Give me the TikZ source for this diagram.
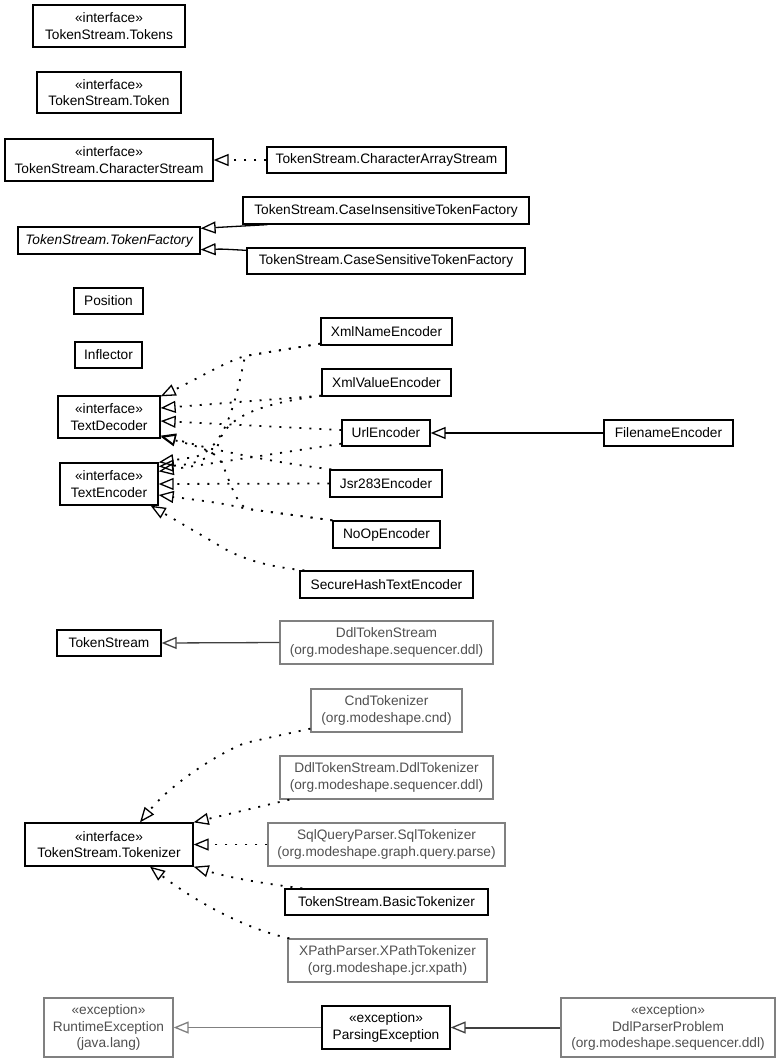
\documentclass[tikz,border=0pt]{standalone}
\usepackage{fontspec}
\setmainfont{Liberation Sans}
\usetikzlibrary{arrows.meta}
\definecolor{gborder}{HTML}{808080}
\definecolor{gtext}{HTML}{505050}
\definecolor{dline}{HTML}{404040}
\begin{document}
\begin{tikzpicture}[x=1pt,y=-1pt,
  box/.style={draw=black, line width=1.3pt, inner sep=0pt, align=center,
    font=\fontsize{13.7}{16.5}\selectfont, text=black},
  gbox/.style={box, draw=gborder, text=gtext},
  real/.style={line width=1.3pt, -{Triangle[open,length=15pt,width=12pt,line width=1.3pt]}},
  impl/.style={real, line width=1.8pt, dash pattern=on 2pt off 8pt}
]
\useasboundingbox (0,0) rectangle (781,1063);
\fill[white] (0,0) rectangle (781,1063);

% nodes
\node[box, minimum width=152pt, minimum height=42pt] (tokens) at (109,26) {«interface»\\TokenStream.Tokens};
\node[box, minimum width=144pt, minimum height=41pt] (token) at (109,92.5) {«interface»\\TokenStream.Token};
\node[box, minimum width=208pt, minimum height=42pt] (charstream) at (109,160) {«interface»\\TokenStream.CharacterStream};
\node[box, minimum width=239pt, minimum height=26pt] (chararray) at (386.5,160) {TokenStream.CharacterArrayStream};
\node[box, minimum width=182pt, minimum height=27pt, font=\fontsize{13.7}{16.5}\selectfont\itshape] (factory) at (109,240.5) {TokenStream.TokenFactory};
\node[box, minimum width=286pt, minimum height=27pt] (caseins) at (386,210.5) {TokenStream.CaseInsensitiveTokenFactory};
\node[box, minimum width=278pt, minimum height=26pt] (casesens) at (386,261) {TokenStream.CaseSensitiveTokenFactory};
\node[box, minimum width=69pt, minimum height=26pt] (position) at (108.5,301) {Position};
\node[box, minimum width=67pt, minimum height=26pt] (inflector) at (108.5,355) {Inflector};
\node[box, minimum width=102pt, minimum height=42pt] (textdec) at (109,417) {«interface»\\TextDecoder};
\node[box, minimum width=98pt, minimum height=42pt] (textenc) at (109,484) {«interface»\\TextEncoder};
\node[box, minimum width=131pt, minimum height=27pt] (xmlname) at (386.5,331.5) {XmlNameEncoder};
\node[box, minimum width=129pt, minimum height=27pt] (xmlvalue) at (386.5,382.5) {XmlValueEncoder};
\node[box, minimum width=88pt, minimum height=26pt] (url) at (386,433) {UrlEncoder};
\node[box, minimum width=129pt, minimum height=26pt] (filename) at (668.5,433) {FilenameEncoder};
\node[box, minimum width=112pt, minimum height=27pt] (jsr) at (386,483.5) {Jsr283Encoder};
\node[box, minimum width=107pt, minimum height=27pt] (noop) at (386.5,534.5) {NoOpEncoder};
\node[box, minimum width=173pt, minimum height=27pt] (securehash) at (386.5,584.5) {SecureHashTextEncoder};
\node[box, minimum width=104pt, minimum height=26pt] (tokenstream) at (109,643) {TokenStream};
\node[gbox, minimum width=213pt, minimum height=43pt] (ddltokenstream) at (386.5,642.5) {DdlTokenStream\\(org.modeshape.sequencer.ddl)};
\node[gbox, minimum width=151pt, minimum height=43pt] (cnd) at (386.5,710.5) {CndTokenizer\\(org.modeshape.cnd)};
\node[gbox, minimum width=213pt, minimum height=43pt] (ddltokenizer) at (386.5,777.5) {DdlTokenStream.DdlTokenizer\\(org.modeshape.sequencer.ddl)};
\node[gbox, minimum width=237pt, minimum height=43pt] (sqltokenizer) at (386.5,844.5) {SqlQueryParser.SqlTokenizer\\(org.modeshape.graph.query.parse)};
\node[box, minimum width=168pt, minimum height=43pt] (tokenizer) at (109,844.5) {«interface»\\TokenStream.Tokenizer};
\node[box, minimum width=203pt, minimum height=26pt] (basic) at (386.5,902) {TokenStream.BasicTokenizer};
\node[gbox, minimum width=199pt, minimum height=43pt] (xpath) at (387.5,960.5) {XPathParser.XPathTokenizer\\(org.modeshape.jcr.xpath)};
\node[gbox, minimum width=129pt, minimum height=59pt] (runtime) at (108.5,1027.5) {«exception»\\RuntimeException\\(java.lang)};
\node[box, minimum width=128pt, minimum height=43pt] (parsing) at (386,1027.5) {«exception»\\ParsingException};
\node[gbox, minimum width=214pt, minimum height=59pt] (ddlparser) at (668,1027.5) {«exception»\\DdlParserProblem\\(org.modeshape.sequencer.ddl)};

% waypoints
\coordinate (w1) at (245,356);
\coordinate (w2) at (218,445);
\coordinate (w3) at (212,449);
\coordinate (w4) at (248,509);
\coordinate (w5) at (224,468);
\coordinate (w6) at (215,543);
\coordinate (w7) at (245,743);
\coordinate (w8) at (195,457);

% top group
\draw[impl] (chararray.west) -- (charstream.east);
\draw[real] ([xshift=25pt]caseins.south west) -- ([yshift=-2pt]factory.north east);
\draw[real] ([yshift=-3pt]casesens.north west) .. controls (222,249) .. ([yshift=5pt]factory.south east);

% encoders / decoders
\draw[impl] ([yshift=2pt]xmlname.south west) -- (w1) .. controls (225,362) and (195,380) .. ([yshift=-1pt]textdec.north east);
\draw[impl] ([yshift=2pt]xmlname.south west) -- (w1) .. controls (236,400) and (226,448) .. (w8) -- (textenc.north east);
\draw[impl] ([yshift=1pt]xmlvalue.south west) -- ([yshift=9pt]textdec.east);
\draw[impl] ([yshift=1pt]xmlvalue.south west) .. controls (250,405) and (225,420) .. (w2) .. controls (212,460) and (190,465) .. ([yshift=-4pt]textenc.north east);
\draw[impl] ([yshift=3pt]url.west) -- ([yshift=-4pt]textdec.east);
\draw[impl] ([yshift=3pt]url.south west) -- ([yshift=-9pt]textenc.north east);
\draw[real] (filename.west) -- (url.east);
\draw[impl] ([xshift=2pt]jsr.north west) .. controls (270,462) and (230,452) .. (w3) -- ([yshift=3pt]textdec.south east);
\draw[impl] (jsr.west) -- (textenc.east);
\draw[impl] (noop.north west) -- (w4) .. controls (238,506) and (232,488) .. (w5) .. controls (219,455) and (213,450) .. ([yshift=2pt]textdec.south east);
\draw[impl] (noop.north west) -- (w4) .. controls (220,503) .. ([yshift=-11pt]textenc.east);
\draw[impl] ([xshift=5pt]securehash.north west) .. controls (260,566) and (235,556) .. (w6) -- ([xshift=-8pt]textenc.south east);

% token stream
\draw[real, draw=dline] (ddltokenstream.west) -- (tokenstream.east);

% tokenizers
\draw[impl] ([yshift=4pt]cnd.south west) -- (w7) .. controls (215,755) and (170,785) .. ([xshift=31pt]tokenizer.north);
\draw[impl] ([xshift=10pt]ddltokenizer.south west) -- (tokenizer.north east);
\draw[impl] (sqltokenizer.west) -- (tokenizer.east);
\draw[impl] ([xshift=18pt]basic.north west) .. controls (250,882) and (220,875) .. (tokenizer.south east);
\draw[impl] ([xshift=2pt]xpath.north west) .. controls (250,930) and (200,905) .. ([xshift=41pt]tokenizer.south);

% exceptions
\draw[real, draw=gborder] (parsing.west) -- (runtime.east);
\draw[real, draw=dline, line width=2pt] (ddlparser.west) -- (parsing.east);
\end{tikzpicture}
\end{document}
